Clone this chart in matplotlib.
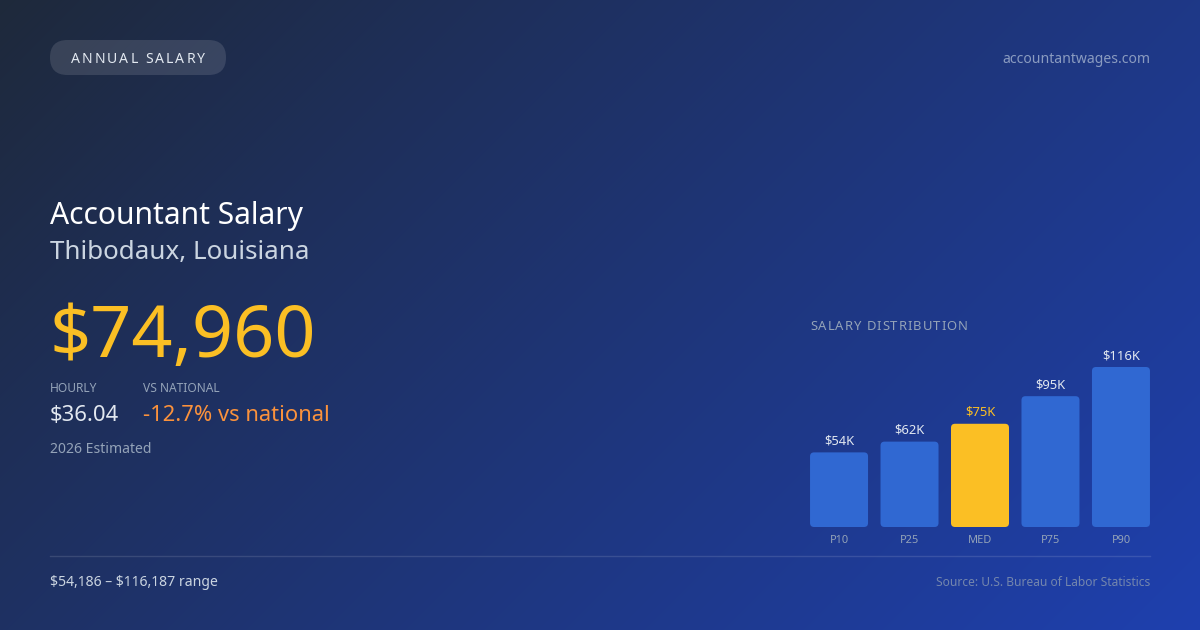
import matplotlib
matplotlib.use("Agg")
import matplotlib.pyplot as plt
from matplotlib.patches import FancyBboxPatch
import numpy as np

plt.rcParams['font.family'] = ['Noto Sans', 'DejaVu Sans']
plt.rcParams['text.parse_math'] = False

# data
percentiles = ["P10", "P25", "MED", "P75", "P90"]
salary_k = [54.186, 62.0, 74.96, 95.0, 116.187]
bar_labels = ["$54K", "$62K", "$75K", "$95K", "$116K"]
highlight = "MED"

title = "Accountant Salary"
location = "Thibodaux, Louisiana"
annual = "$74,960"
hourly = "$36.04"
vs_national = "-12.7% vs national"
range_text = "$54,186 \u2013 $116,187 range"

W, H = 1200, 630
fig = plt.figure(figsize=(W / 100, H / 100), dpi=100)

# background in pixel coordinates
bg = fig.add_axes([0, 0, 1, 1])
bg.set_xlim(0, W)
bg.set_ylim(H, 0)
bg.axis("off")

yy, xx = np.mgrid[0:H, 0:W]
L = (W + H) * 0.70711
t = ((xx - W / 2) * 0.70711 + (yy - H / 2) * 0.70711) / L + 0.5
c0 = np.array([30, 41, 59]) / 255
c1 = np.array([30, 64, 175]) / 255
img = c0[None, None, :] * (1 - t[..., None]) + c1[None, None, :] * t[..., None]
bg.imshow(img, extent=[0, W, H, 0], aspect="auto", zorder=0)

renderer = fig.canvas.get_renderer()


def px(v):
    return v * 0.72


def text_width(s, size):
    tt = bg.text(0, 0, s + "|", fontsize=size)
    w1 = tt.get_window_extent(renderer).width
    tt.remove()
    tt = bg.text(0, 0, "|", fontsize=size)
    w2 = tt.get_window_extent(renderer).width
    tt.remove()
    return w1 - w2


def spaced(x, y, s, size, color, spacing, ha="left"):
    total = text_width(s, size) + spacing * (len(s) - 1)
    if ha == "center":
        x = x - total / 2
    elif ha == "right":
        x = x - total
    for i, ch in enumerate(s):
        if ch == " ":
            continue
        xi = x + (text_width(s[:i], size) if i else 0) + i * spacing
        bg.text(xi, y, ch, fontsize=size, color=color, va="baseline", ha="left", zorder=5)


# pill
pill = FancyBboxPatch((50, 40), 176, 35,
                      boxstyle="round,pad=0,rounding_size=17.5",
                      facecolor="white", alpha=0.12, edgecolor="none", zorder=3)
bg.add_patch(pill)
spaced(138, 63, "ANNUAL SALARY", px(14), "#e2e8f0", 2.0, ha="center")

bg.text(1150, 63, "accountantwages.com", fontsize=px(14), color="#8a9bc0",
        ha="right", va="baseline")

# headline block
bg.text(50, 224, title, fontsize=px(30), color="white", va="baseline")
bg.text(50, 259, location, fontsize=px(26), color="#cbd5e1", va="baseline")
bg.text(50, 357, annual, fontsize=px(72), color="#fbbf24", va="baseline")

bg.text(50, 392, "HOURLY", fontsize=px(12), color="#94a3b8", va="baseline")
bg.text(143, 392, "VS NATIONAL", fontsize=px(12), color="#94a3b8", va="baseline")
bg.text(50, 421, hourly, fontsize=px(22), color="#e2e8f0", va="baseline")
bg.text(143, 421, vs_national, fontsize=px(22), color="#fb923c", va="baseline")
bg.text(50, 453, "2026 Estimated", fontsize=px(14), color="#94a3b8", va="baseline")

# footer
bg.plot([50, 1150], [556, 556], color="white", alpha=0.12, lw=1)
bg.text(50, 586, range_text, fontsize=px(14), color="#cbd5e1", va="baseline")
bg.text(1150, 586, "Source: U.S. Bureau of Labor Statistics", fontsize=px(12),
        color="#7486ad", ha="right", va="baseline")

# distribution chart
spaced(810, 330, "SALARY DISTRIBUTION", px(13), "#94a3b8", 1.0)

ax = fig.add_axes([810 / W, (H - 527) / H, 340 / W, 200 / H])
ax.patch.set_alpha(0)
ax.axis("off")
x = np.arange(len(percentiles))
ax.set_xlim(-0.412, len(percentiles) - 1 + 0.412)
ax.set_ylim(0, 200 / (160 / 116.187))
colors = ["#fbbf24" if p == highlight else "#3068d2" for p in percentiles]
bars = ax.bar(x, salary_k, width=0.823, color=colors)

# round the bar corners
x_per_px = (ax.get_xlim()[1] - ax.get_xlim()[0]) / 340
y_per_px = (ax.get_ylim()[1] - ax.get_ylim()[0]) / 200
for b in bars:
    r = FancyBboxPatch((b.get_x(), b.get_y()), b.get_width(), b.get_height(),
                       boxstyle="round,pad=0,rounding_size=%f" % (4 * x_per_px),
                       mutation_aspect=y_per_px / x_per_px,
                       facecolor=b.get_facecolor(), edgecolor="none")
    b.remove()
    ax.add_patch(r)

for xi, v, lab, p in zip(x, salary_k, bar_labels, percentiles):
    ax.annotate(lab, (xi, v), xytext=(0, px(8)), textcoords="offset points",
                ha="center", va="baseline", fontsize=px(13),
                color="#fbbf24" if p == highlight else "#e2e8f0")
    ax.annotate(p, (xi, 0), xytext=(0, -px(16)), textcoords="offset points",
                ha="center", va="baseline", fontsize=px(11), color="#94a3b8",
                annotation_clip=False)

fig.savefig("out.png", dpi=100)
